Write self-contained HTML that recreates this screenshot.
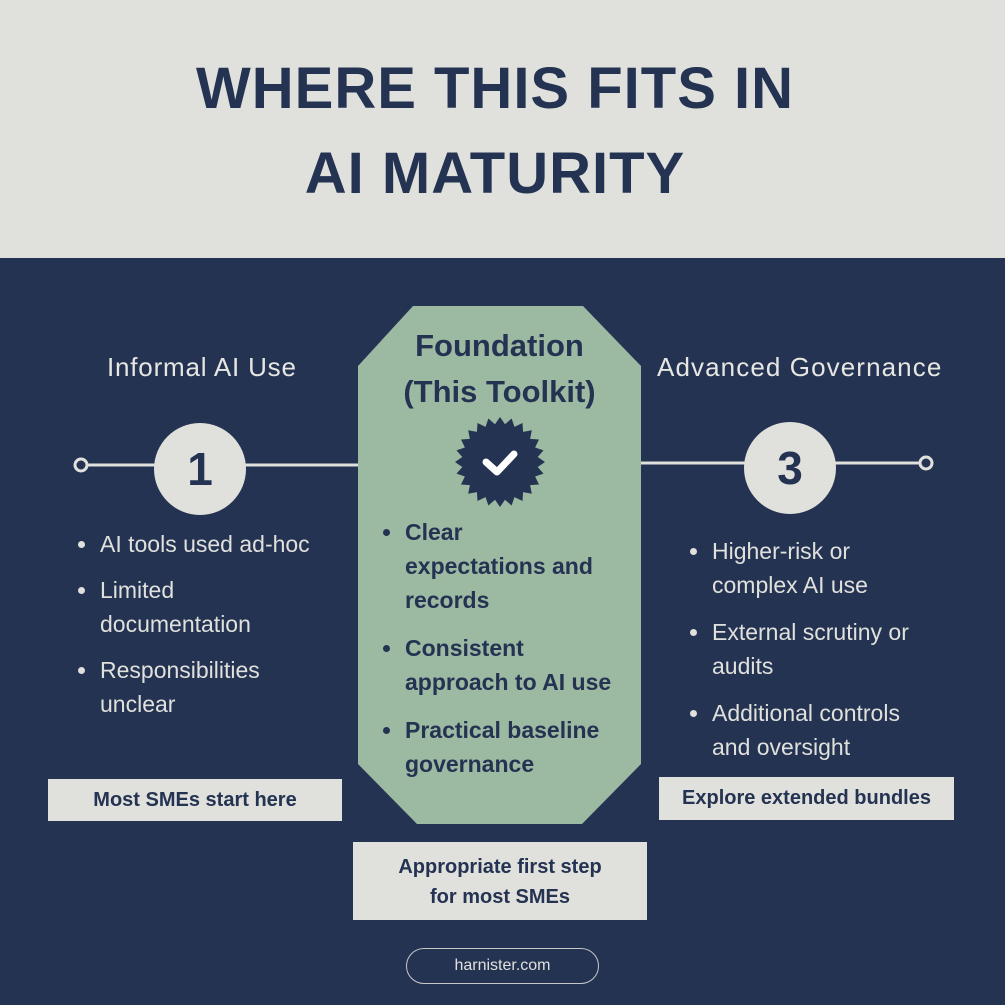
<!DOCTYPE html>
<html><head><meta charset="utf-8"><style>
*{margin:0;padding:0;box-sizing:border-box}
body{width:1005px;height:1005px;position:relative;overflow:hidden;background:#243352;font-family:"Liberation Sans",sans-serif}
.hdr{position:absolute;left:0;top:0;width:1005px;height:258px;background:#e0e0dc}
.t{position:absolute;white-space:nowrap}
.title{left:0;width:990px;text-align:center;font-weight:bold;font-size:58px;color:#243352;letter-spacing:1px}
.lab{font-size:26px;color:#e6e6e2;letter-spacing:0.8px}
ul{position:absolute;list-style:none}
li{position:relative;padding-left:24px;font-size:23px;line-height:34px;margin-bottom:12px;white-space:nowrap}
li:before{content:"";position:absolute;left:2px;top:14px;width:7px;height:7px;border-radius:50%;background:currentColor}
.side li{color:#e0e0dc}
.mid li{color:#243352;font-weight:bold;font-size:23px;margin-bottom:14px}
.box{position:absolute;background:#e0e0dc;color:#243352;font-weight:bold;text-align:center;font-size:20px}
.circ{position:absolute;width:92px;height:92px;border-radius:50%;background:#e0e0dc;color:#243352;font-weight:bold;font-size:46px;text-align:center;line-height:92px}
</style></head><body>
<div class="hdr"></div>
<div class="t title" style="top:55px">WHERE THIS FITS IN</div>
<div class="t title" style="top:140px">AI MATURITY</div>

<svg style="position:absolute;left:0;top:0" width="1005" height="1005">
<line x1="82" y1="465" x2="360" y2="465" stroke="#e0e0dc" stroke-width="3"/>
<line x1="640" y1="463" x2="925" y2="463" stroke="#e0e0dc" stroke-width="3"/>
<circle cx="81" cy="465" r="6" fill="#243352" stroke="#e0e0dc" stroke-width="3"/>
<circle cx="926" cy="463" r="6" fill="#243352" stroke="#e0e0dc" stroke-width="3"/>
<polygon points="413,306 583,306 641,366 641,764 582,824 417,824 358,764 358,366" fill="#9cb9a2"/>
<polygon id="seal" fill="#243352" points=""/>
<polyline points="486,462 497,472 514,454" fill="none" stroke="#fff" stroke-width="7" stroke-linecap="round" stroke-linejoin="round"/>
</svg>
<script>
(function(){var p=[],cx=500,cy=462,n=24;for(var i=0;i<n*2;i++){var a=Math.PI*i/n,r=i%2?38:45;p.push((cx+r*Math.sin(a)).toFixed(1)+","+(cy-r*Math.cos(a)).toFixed(1));}document.getElementById('seal').setAttribute('points',p.join(' '));})();
</script>

<div class="t lab" style="left:107px;top:352px">Informal AI Use</div>
<div class="t lab" style="left:657px;top:352px;letter-spacing:1.1px">Advanced Governance</div>
<div class="t" style="left:358px;width:283px;text-align:center;top:323px;font-size:31px;font-weight:bold;color:#243352;line-height:46px">Foundation<br>(This Toolkit)</div>

<div class="circ" style="left:154px;top:423px">1</div>
<div class="circ" style="left:744px;top:422px">3</div>

<ul class="side" style="left:76px;top:527px">
<li>AI tools used ad-hoc</li>
<li>Limited<br>documentation</li>
<li>Responsibilities<br>unclear</li>
</ul>
<ul class="mid" style="left:381px;top:515px">
<li>Clear<br>expectations and<br>records</li>
<li>Consistent<br>approach to AI use</li>
<li>Practical baseline<br>governance</li>
</ul>
<ul class="side" style="left:688px;top:534px">
<li style="margin-bottom:13px">Higher-risk or<br>complex AI use</li>
<li style="margin-bottom:13px">External scrutiny or<br>audits</li>
<li>Additional controls<br>and oversight</li>
</ul>

<div class="box" style="left:48px;top:779px;width:294px;height:42px;line-height:42px">Most SMEs start here</div>
<div class="box" style="left:659px;top:777px;width:295px;height:43px;line-height:43px">Explore extended bundles</div>
<div class="box" style="left:353px;top:842px;width:294px;height:78px;padding-top:10px;line-height:30px">Appropriate first step<br>for most SMEs</div>

<div style="position:absolute;left:406px;top:948px;width:193px;height:36px;border:1.5px solid #c8c8c8;border-radius:18px;color:#e0e0dc;font-size:16px;text-align:center;line-height:33px">harnister.com</div>
</body></html>
